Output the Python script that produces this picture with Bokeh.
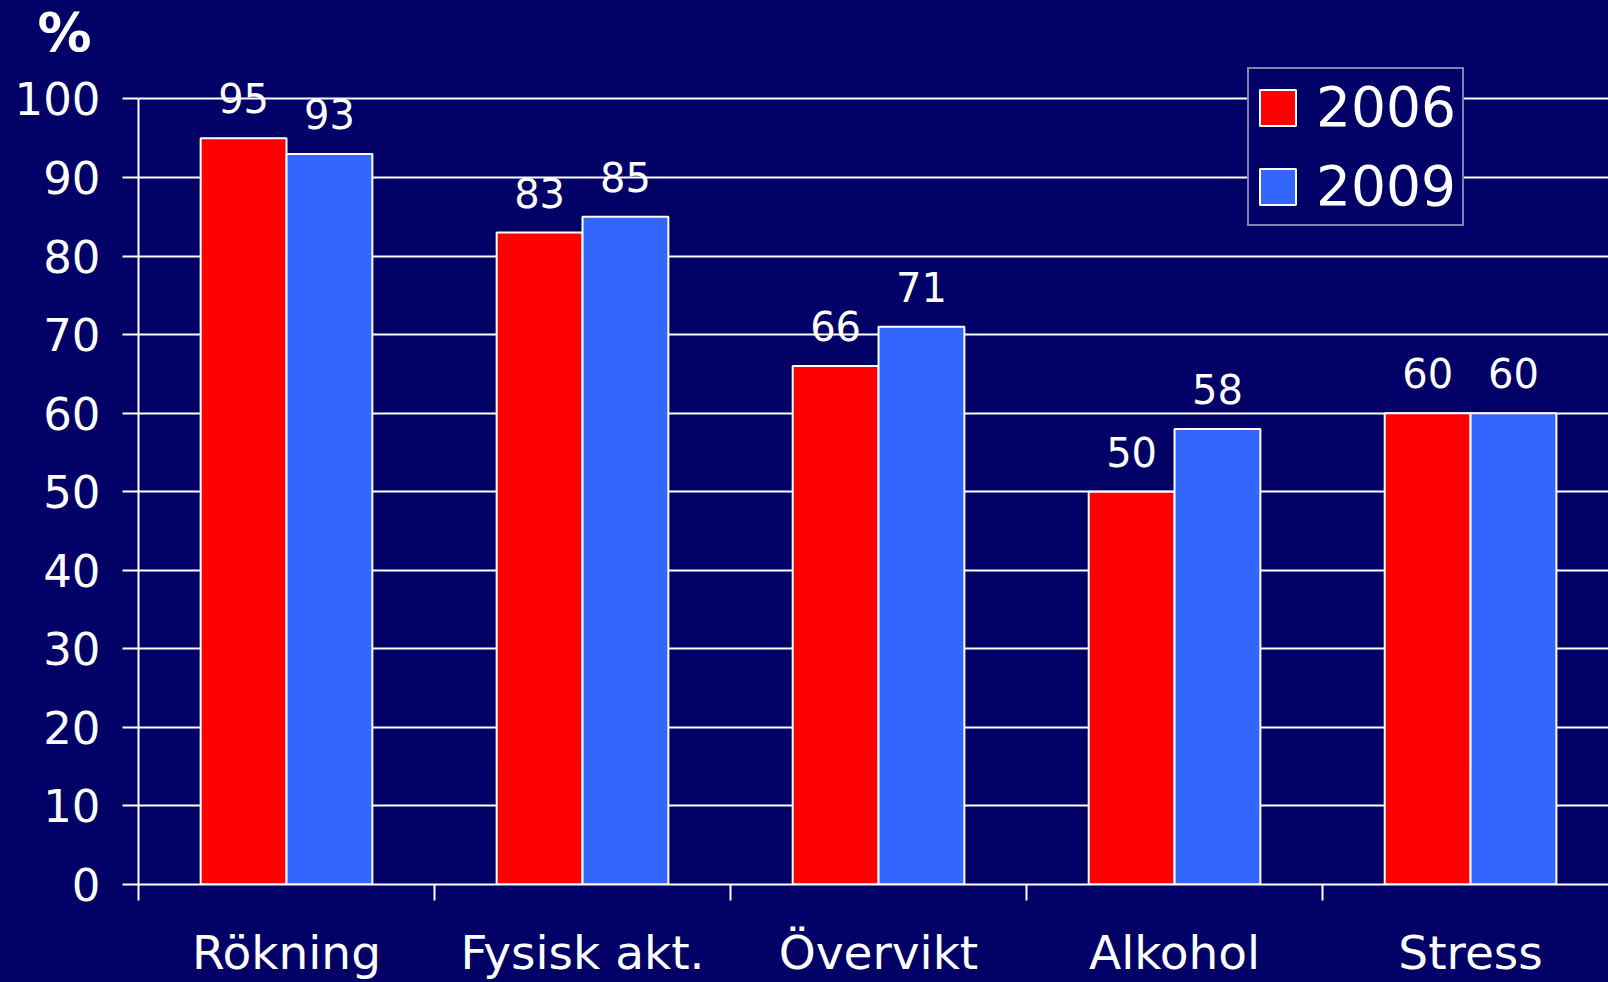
from bokeh.plotting import figure
from bokeh.models import ColumnDataSource, FixedTicker, Legend, LegendItem
from bokeh.transform import dodge
from bokeh.embed import file_html
from bokeh.resources import INLINE
from bokeh.core.properties import value

categories = ["Rökning", "Fysisk akt.", "Övervikt", "Alkohol", "Stress"]
series_names = ["2006", "2009"]
values_2006 = [95, 83, 66, 50, 60]
values_2009 = [93, 85, 71, 58, 60]
y_ticks = [0, 10, 20, 30, 40, 50, 60, 70, 80, 90, 100]
y_label = "%"

BG = "#000066"
RED = "#FF0000"
BLUE = "#3366FF"
FONT = "DejaVu Sans"

xc = [i + 0.5 for i in range(len(categories))]
src = ColumnDataSource(dict(
    x=xc,
    v06=values_2006,
    v09=values_2009,
    t06=[str(v) for v in values_2006],
    t09=[str(v) for v in values_2009],
))

p = figure(width=1608, height=982, x_range=(0, 4.966), y_range=(0, 104.26),
           output_backend="svg", toolbar_location=None,
           border_fill_color=BG,
           min_border_left=138, min_border_right=0, min_border_top=65,
           min_border_bottom=98)
p.background_fill_alpha = 0
p.outline_line_color = None

# "%" unit label as the title, placed above the y axis
p.title.text = y_label
p.title.text_font = FONT
p.title.text_font_style = "bold"
p.title.text_font_size = "54px"
p.title.text_color = "white"
p.title.align = "left"
p.title.vertical_align = "top"
p.title.offset = -101
p.title.standoff = 0

bw = 0.29
r06 = p.vbar(x=dodge("x", -bw / 2), top="v06", width=bw, source=src,
             fill_color=RED, line_color="white", line_width=2)
r09 = p.vbar(x=dodge("x", bw / 2), top="v09", width=bw, source=src,
             fill_color=BLUE, line_color="white", line_width=2)

for col, off in (("06", -bw / 2), ("09", bw / 2)):
    p.text(x=dodge("x", off), y="v" + col, text="t" + col, source=src,
           text_align="center", text_baseline="middle", y_offset=-40,
           text_color="white", text_font=value(FONT), text_font_size="40px")

# y axis
p.yaxis.ticker = FixedTicker(ticks=y_ticks)
p.yaxis.bounds = (0, 100)
p.yaxis.major_tick_out = 16
p.yaxis.major_tick_in = 0
p.yaxis.major_tick_line_color = "white"
p.yaxis.major_tick_line_width = 2
p.yaxis.minor_tick_line_color = None
p.yaxis.axis_line_color = "white"
p.yaxis.axis_line_width = 2
p.yaxis.major_label_text_color = "white"
p.yaxis.major_label_text_font = FONT
p.yaxis.major_label_text_font_size = "45px"
p.yaxis.major_label_standoff = 22

p.ygrid.ticker = FixedTicker(ticks=y_ticks)
p.ygrid.grid_line_color = "white"
p.ygrid.grid_line_width = 2
p.xgrid.grid_line_color = None

# x axis
p.xaxis.ticker = FixedTicker(ticks=xc, minor_ticks=list(range(len(categories))))
p.xaxis.major_label_overrides = {x: c for x, c in zip(xc, categories)}
p.xaxis.major_tick_line_color = None
p.xaxis.major_tick_out = 16
p.xaxis.major_tick_in = 0
p.xaxis.minor_tick_out = 16
p.xaxis.minor_tick_in = 0
p.xaxis.minor_tick_line_color = "white"
p.xaxis.minor_tick_line_width = 2
p.xaxis.axis_line_color = "white"
p.xaxis.axis_line_width = 2
p.xaxis.major_label_text_color = "white"
p.xaxis.major_label_text_font = FONT
p.xaxis.major_label_text_font_size = "47px"
p.xaxis.major_label_standoff = 24

legend = Legend(items=[LegendItem(label=series_names[0], renderers=[r06]),
                       LegendItem(label=series_names[1], renderers=[r09])],
                location=(1109, 658))
legend.glyph_width = 45
legend.glyph_height = 45
legend.label_text_font = FONT
legend.label_text_font_size = "55px"
legend.label_text_color = "white"
legend.label_standoff = 16
legend.spacing = 15
legend.padding = 6
legend.margin = 0
legend.border_line_color = "white"
legend.border_line_width = 2
legend.background_fill_color = BG
legend.background_fill_alpha = 1
p.add_layout(legend)

html = file_html(p, INLINE)
html = html.replace("<head>", "<head><style>html, body { background: #000066; }</style>", 1)
open("out.html", "w").write(html)
